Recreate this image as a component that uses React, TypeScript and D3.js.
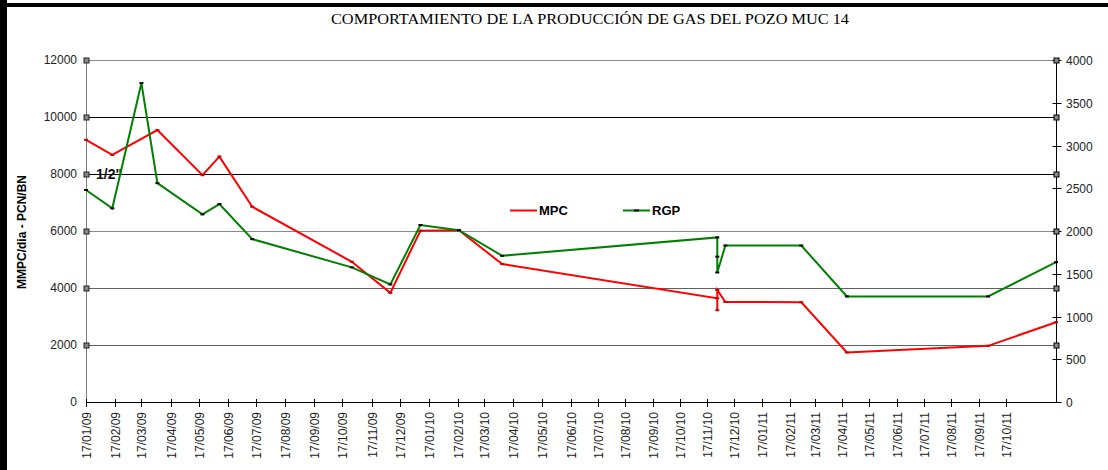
import { useEffect, useRef } from 'react'
import * as d3 from 'd3'

const TITLE = 'COMPORTAMIENTO DE LA PRODUCCIÓN DE GAS DEL POZO MUC 14'
const Y_TITLE = 'MMPC/dia - PCN/BN'

const MPC_DATES = [
  '2009-01-17', '2009-02-14', '2009-04-03', '2009-05-21', '2009-06-08', '2009-07-13',
  '2009-10-27', '2009-12-07', '2010-01-08', '2010-02-18', '2010-04-05', '2010-11-28',
  '2010-11-28', '2010-11-28', '2010-12-07', '2011-03-02', '2011-04-22', '2011-09-27', '2011-12-12',
]
const MPC_VALUES = [
  9200, 8670, 9540, 7960, 8610, 6850,
  4920, 3830, 6010, 6030, 4840, 3640,
  3220, 3930, 3510, 3500, 1740, 1970, 2800,
]

const RGP_DATES = [
  '2009-01-17', '2009-02-14', '2009-03-17', '2009-04-03', '2009-05-21', '2009-06-08',
  '2009-07-13', '2009-10-27', '2009-12-07', '2010-01-08', '2010-02-18', '2010-04-05',
  '2010-11-28', '2010-11-28', '2010-11-28', '2010-12-07', '2011-03-02', '2011-04-22',
  '2011-09-27', '2011-12-12',
]
const RGP_VALUES = [
  2480, 2265, 3730, 2560, 2195, 2315,
  1905, 1575, 1375, 2070, 2010, 1710,
  1925, 1700, 1515, 1830, 1830, 1235,
  1235, 1635,
]

const LEFT_TICKS = [0, 2000, 4000, 6000, 8000, 10000, 12000]
const RIGHT_TICKS = [0, 500, 1000, 1500, 2000, 2500, 3000, 3500, 4000]
const GRID_COLORS = { 2000: '#606060', 4000: '#606060', 6000: '#8a8a8a', 8000: '#000', 10000: '#000', 12000: '#8a8a8a' }

const W = 1108
const H = 470
const M = { top: 60, left: 86, right: 1056.5, bottom: 402 }
const FONT = '"Liberation Sans", Arial, sans-serif'

export default function App() {
  const svgRef = useRef(null)

  useEffect(() => {
    const parse = d3.timeParse('%Y-%m-%d')
    const mpc = MPC_DATES.map((d, i) => ({ t: parse(d), v: MPC_VALUES[i] }))
    const rgp = RGP_DATES.map((d, i) => ({ t: parse(d), v: RGP_VALUES[i] }))

    // the printed axis isn't quite linear in time, so use a 3-stop time scale
    const x = d3.scaleTime()
      .domain([parse('2009-01-17'), parse('2010-06-17'), parse('2011-10-17')])
      .range([M.left, 570.7, 1006])
    const yL = d3.scaleLinear().domain([0, 12000]).range([M.bottom, M.top])
    const yR = d3.scaleLinear().domain([0, 4000]).range([M.bottom, M.top])

    const svg = d3.select(svgRef.current)
    svg.selectAll('*').remove()

    // frame
    svg.append('rect').attr('x', 0).attr('y', 0).attr('width', 7).attr('height', H).attr('fill', '#000')
    svg.append('rect').attr('x', 0).attr('y', 3).attr('width', W).attr('height', 4).attr('fill', '#000')

    // title
    svg.append('text')
      .attr('x', 590).attr('y', 24)
      .attr('text-anchor', 'middle')
      .attr('font-family', '"Liberation Serif", "Times New Roman", serif')
      .attr('font-size', 15)
      .attr('textLength', 518).attr('lengthAdjust', 'spacingAndGlyphs')
      .text(TITLE)

    // gridlines
    LEFT_TICKS.filter(v => v > 0).forEach(v => {
      svg.append('line')
        .attr('x1', M.left).attr('x2', M.right)
        .attr('y1', Math.round(yL(v)) + 0.5).attr('y2', Math.round(yL(v)) + 0.5)
        .attr('stroke', GRID_COLORS[v]).attr('stroke-width', 1)
    })

    // left axis
    svg.append('line')
      .attr('x1', M.left + 0.5).attr('x2', M.left + 0.5).attr('y1', M.top).attr('y2', M.bottom)
      .attr('stroke', '#808080')
    LEFT_TICKS.forEach(v => {
      const y = Math.round(yL(v))
      if (v > 0) {
        svg.append('rect')
          .attr('x', M.left - 2).attr('y', y - 2).attr('width', 5).attr('height', 5)
          .attr('fill', '#888').attr('stroke', '#222').attr('stroke-width', 1)
      }
      svg.append('text')
        .attr('x', 77).attr('y', y + 4)
        .attr('text-anchor', 'end')
        .attr('font-family', FONT).attr('font-size', 12).attr('fill', '#222')
        .text(v)
    })

    // right axis
    svg.append('line')
      .attr('x1', M.right).attr('x2', M.right).attr('y1', M.top).attr('y2', M.bottom)
      .attr('stroke', '#000')
    RIGHT_TICKS.forEach(v => {
      const y = Math.round(yR(v)) + 0.5
      svg.append('line')
        .attr('x1', M.right - 4).attr('x2', M.right + 5).attr('y1', y).attr('y2', y)
        .attr('stroke', '#000')
      svg.append('text')
        .attr('x', 1066).attr('y', y + 4)
        .attr('font-family', FONT).attr('font-size', 12).attr('fill', '#222')
        .text(v)
    })
    LEFT_TICKS.filter(v => v > 0).forEach(v => {
      const y = Math.round(yL(v))
      svg.append('rect')
        .attr('x', M.right - 2.5).attr('y', y - 2).attr('width', 5).attr('height', 5)
        .attr('fill', '#888').attr('stroke', '#000').attr('stroke-width', 1)
    })

    // x axis
    const ticks = d3.timeMonth.range(new Date(2009, 0, 1), new Date(2011, 10, 1))
      .map(d => new Date(d.getFullYear(), d.getMonth(), 17))
    const fmt = d3.timeFormat('%d/%m/%y')
    svg.append('line')
      .attr('x1', M.left).attr('x2', M.right).attr('y1', M.bottom + 0.5).attr('y2', M.bottom + 0.5)
      .attr('stroke', '#000')
    ticks.forEach(t => {
      const tx = Math.round(x(t)) + 0.5
      svg.append('line')
        .attr('x1', tx).attr('x2', tx).attr('y1', M.bottom - 3).attr('y2', M.bottom + 5)
        .attr('stroke', '#000')
      svg.append('text')
        .attr('transform', `translate(${tx + 4},${M.bottom + 10}) rotate(-90)`)
        .attr('text-anchor', 'end')
        .attr('font-family', FONT).attr('font-size', 12).attr('fill', '#222')
        .text(fmt(t))
    })

    // y title
    svg.append('text')
      .attr('transform', `translate(26,232) rotate(-90)`)
      .attr('text-anchor', 'middle')
      .attr('font-family', FONT).attr('font-size', 12).attr('font-weight', 'bold')
      .text(Y_TITLE)

    // annotation
    svg.append('text')
      .attr('x', 96).attr('y', 179)
      .attr('font-family', FONT).attr('font-size', 14).attr('font-weight', 'bold').attr('fill', '#111')
      .text('1/2"')

    // series
    const lineL = d3.line().x(d => x(d.t)).y(d => yL(d.v))
    const lineR = d3.line().x(d => x(d.t)).y(d => yR(d.v))

    svg.append('path').datum(mpc)
      .attr('fill', 'none').attr('stroke', '#ff0000').attr('stroke-width', 2)
      .attr('d', lineL)
    svg.append('g').selectAll('line').data(mpc).join('line')
      .attr('x1', d => x(d.t) - 2).attr('x2', d => x(d.t) + 2)
      .attr('y1', d => yL(d.v)).attr('y2', d => yL(d.v))
      .attr('stroke', '#cc0000').attr('stroke-width', 2)

    svg.append('path').datum(rgp)
      .attr('fill', 'none').attr('stroke', '#008000').attr('stroke-width', 2)
      .attr('d', lineR)
    svg.append('g').selectAll('line').data(rgp).join('line')
      .attr('x1', d => x(d.t) - 2).attr('x2', d => x(d.t) + 2)
      .attr('y1', d => yR(d.v)).attr('y2', d => yR(d.v))
      .attr('stroke', '#000').attr('stroke-width', 2)

    // legend
    const lg = svg.append('g').attr('font-family', FONT).attr('font-size', 13).attr('font-weight', 'bold')
    lg.append('line').attr('x1', 510).attr('x2', 537).attr('y1', 210.5).attr('y2', 210.5)
      .attr('stroke', '#ff0000').attr('stroke-width', 2)
    lg.append('text').attr('x', 539).attr('y', 215).text('MPC')
    lg.append('line').attr('x1', 623).attr('x2', 650).attr('y1', 210.5).attr('y2', 210.5)
      .attr('stroke', '#008000').attr('stroke-width', 2)
    lg.append('line').attr('x1', 634).attr('x2', 639).attr('y1', 210.5).attr('y2', 210.5)
      .attr('stroke', '#000').attr('stroke-width', 2)
    lg.append('text').attr('x', 652).attr('y', 215).text('RGP')
  }, [])

  return (
    <svg
      ref={svgRef}
      width={W}
      height={H}
      style={{ position: 'absolute', left: 0, top: 0, background: '#fff', display: 'block' }}
    />
  )
}
